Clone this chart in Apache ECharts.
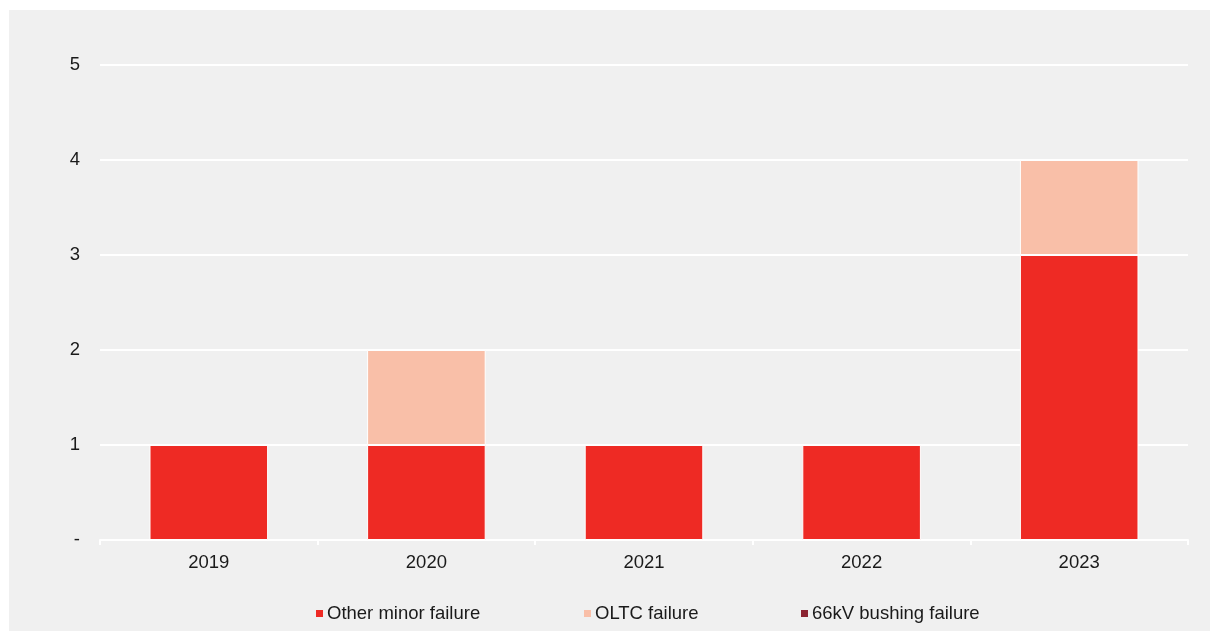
<!DOCTYPE html>
<html>
<head>
<meta charset="utf-8">
<script src="https://cdn.jsdelivr.net/npm/echarts@6/dist/echarts.min.js"></script>
<style>
  html, body { margin: 0; padding: 0; background: #ffffff; }
  #chart { width: 1210px; height: 631px; }
</style>
</head>
<body>
<div id="chart"></div>
<script>
// Transformer failures per year, by failure type
const years = ['2019', '2020', '2021', '2022', '2023'];
const otherMinor = [1, 1, 1, 1, 3];
const oltc = [0, 1, 0, 0, 1];
const bushing66kV = [0, 0, 0, 0, 0];
const yTicks = [0, 1, 2, 3, 4, 5];

const seriesNames = ['Other minor failure', 'OLTC failure', '66kV bushing failure'];
const colors = ['#ee2a24', '#f9bfa8', '#8b2331'];

const chart = echarts.init(document.getElementById('chart'), null, { renderer: 'canvas' });

const font = 'Liberation Sans, Arial, sans-serif';
const fontSize = 18.5;

function legendAt(name, left) {
  return {
    data: [name],
    left: left,
    top: 604,
    itemWidth: 7,
    itemHeight: 7,
    itemGap: 0,
    icon: 'rect',
    padding: 0,
    itemStyle: { borderWidth: 0 },
    textStyle: { fontFamily: font, fontSize: fontSize, color: '#1a1a1a', padding: [0, 0, 0, -1] },
    selectedMode: false
  };
}

chart.setOption({
  animation: false,
  backgroundColor: '#ffffff',
  graphic: [{
    type: 'rect',
    z: -10,
    silent: true,
    shape: { x: 9, y: 10, width: 1201, height: 621 },
    style: { fill: '#f0f0f0' }
  }],
  grid: { left: 100, right: 22, top: 65, bottom: 91, containLabel: false },
  legend: [
    legendAt(seriesNames[0], 316),
    legendAt(seriesNames[1], 584),
    legendAt(seriesNames[2], 801)
  ],
  xAxis: {
    type: 'category',
    data: years,
    axisLine: { show: true, lineStyle: { color: '#ffffff', width: 2 } },
    axisTick: { show: true, alignWithLabel: false, length: 5, lineStyle: { color: '#ffffff', width: 2 } },
    axisLabel: { fontFamily: font, fontSize: fontSize, color: '#1a1a1a', margin: 13 }
  },
  yAxis: {
    type: 'value',
    min: yTicks[0],
    max: yTicks[yTicks.length - 1],
    interval: 1,
    axisLine: { show: false },
    axisTick: { show: false },
    splitLine: { show: true, lineStyle: { color: '#ffffff', width: 2 } },
    axisLabel: {
      fontFamily: font, fontSize: fontSize, color: '#1a1a1a', margin: 20,
      formatter: v => (v === 0 ? '-' : String(v))
    }
  },
  series: [
    {
      name: seriesNames[0], type: 'bar', stack: 'total', data: otherMinor,
      barWidth: '54.5%',
      itemStyle: { color: colors[0], borderColor: '#ffffff', borderWidth: 1 }
    },
    {
      name: seriesNames[1], type: 'bar', stack: 'total', data: oltc,
      itemStyle: { color: colors[1], borderColor: '#ffffff', borderWidth: 1 }
    },
    {
      name: seriesNames[2], type: 'bar', stack: 'total', data: bushing66kV,
      itemStyle: { color: colors[2], borderWidth: 0 }
    }
  ]
});
</script>
</body>
</html>
